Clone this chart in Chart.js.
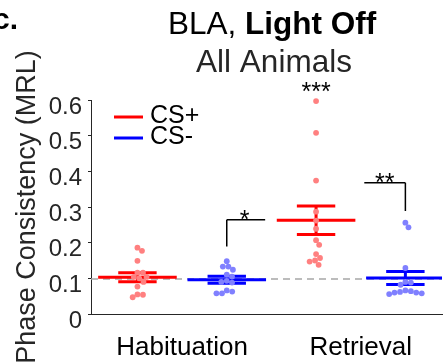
<!DOCTYPE html>
<html><head><meta charset="utf-8">
<script src="https://cdn.jsdelivr.net/npm/chart.js@4"></script>
<style>html,body{margin:0;padding:0;background:#fff}#wrap{width:446px;height:362px}</style>
</head><body><div id="wrap"><canvas id="c" width="446" height="362"></canvas></div>
<script>
// ---------------- data ----------------
const categories = ['Habituation', 'Retrieval'];
const seriesNames = ['CS+', 'CS-'];
const yTicks = [0, 0.1, 0.2, 0.3, 0.4, 0.5, 0.6];
const habituationCSplus  = [0.186,0.177,0.149,0.116,0.116,0.104,0.104,0.100,0.090,0.077,0.055,0.054,0.047];
const habituationCSminus = [0.148,0.133,0.133,0.124,0.110,0.105,0.093,0.090,0.088,0.066,0.063,0.058,0.058];
const retrievalCSplus    = [0.597,0.508,0.374,0.287,0.262,0.239,0.207,0.194,0.168,0.157,0.150,0.147,0.138];
const retrievalCSminus   = [0.256,0.243,0.129,0.090,0.088,0.082,0.066,0.062,0.060,0.058,0.056,0.060,0.064];
const meanCSplus  = [0.103, 0.263];
const semCSplus   = [0.0125, 0.040];
const meanCSminus = [0.096, 0.101];
const semCSminus  = [0.010, 0.018];
const baselineMRL = 0.098;
const sigLabels = ['*', '**', '***'];
const sigLabelX = [2.2, 3.77, 3.0];
const sigLabelY = [0.282, 0.385, 0.639];
const sigBarX1  = [2.0, 3.54, null];
const sigBarX2  = [2.43, 4.0, null];
const sigBarY   = [0.264, 0.368, null];
const sigDropX  = [2.0, 4.0, null];
const sigDropY  = [0.189, 0.289, null];

// ---------------- layout helpers ----------------
const FONT = "'Liberation Sans', Arial, Helvetica, sans-serif";
const posCSplus = [1, 3], posCSminus = [2, 4];
const X_MIN = 0.48, X_MAX = 4.41;
const RED = '#ff0000', BLUE = '#0000ff', RED_DOT = '#ff8080', BLUE_DOT = '#8080ff';

function beeswarm(values, center, ppuX, ppuY, d) {
  const idx = values.map((v, i) => i).sort((a, b) => values[b] - values[a]);
  const placed = [], out = new Array(values.length);
  for (const i of idx) {
    const py = values[i] * ppuY;
    const cands = [0];
    for (const p of placed) {
      const dy = Math.abs(p.y - py);
      if (dy < d) { const dx = Math.sqrt(d * d - dy * dy); cands.push(p.x + dx, p.x - dx); }
    }
    cands.sort((a, b) => Math.abs(a) - Math.abs(b));
    let chosen = 0;
    for (const c of cands) {
      if (placed.every(p => (p.x - c) ** 2 + (p.y - py) ** 2 >= d * d - 1e-6)) { chosen = c; break; }
    }
    placed.push({x: chosen, y: py});
    out[i] = {x: center + chosen / ppuX, y: values[i]};
  }
  return out;
}
const PPU_X = 90.3, PPU_Y = 357, DOT_D = 5.6;

function errorSegments(means, sems, positions) {
  const pts = [];
  means.forEach((m, i) => {
    const x = positions[i], s = sems[i];
    pts.push({x: x - 0.44, y: m}, {x: x + 0.44, y: m}, {x: x, y: null});
    pts.push({x: x - 0.215, y: m + s}, {x: x + 0.215, y: m + s}, {x: x, y: null});
    pts.push({x: x - 0.215, y: m - s}, {x: x + 0.215, y: m - s}, {x: x, y: null});
    pts.push({x: x, y: m - s}, {x: x, y: m + s}, {x: x, y: null});
  });
  return pts;
}

const datasets = [
  {label: 'CS+ dots', data: [...beeswarm(habituationCSplus, posCSplus[0], PPU_X, PPU_Y, DOT_D), ...beeswarm(retrievalCSplus, posCSplus[1], PPU_X, PPU_Y, DOT_D)],
   pointRadius: 2.9, pointBackgroundColor: RED_DOT, pointBorderWidth: 0, showLine: false, order: 0, clip: false},
  {label: 'CS- dots', data: [...beeswarm(habituationCSminus, posCSminus[0], PPU_X, PPU_Y, DOT_D), ...beeswarm(retrievalCSminus, posCSminus[1], PPU_X, PPU_Y, DOT_D)],
   pointRadius: 2.9, pointBackgroundColor: BLUE_DOT, pointBorderWidth: 0, showLine: false, order: 0, clip: false},
  {label: seriesNames[0], data: errorSegments(meanCSplus, semCSplus, posCSplus), showLine: true, spanGaps: false,
   borderColor: RED, borderWidth: 3, pointRadius: 0, order: 1},
  {label: seriesNames[1], data: errorSegments(meanCSminus, semCSminus, posCSminus), showLine: true, spanGaps: false,
   borderColor: BLUE, borderWidth: 3, pointRadius: 0, order: 1},
  {label: 'baseline', data: [{x: X_MIN, y: baselineMRL}, {x: X_MAX, y: baselineMRL}], showLine: true,
   borderColor: '#a6a6a6', borderWidth: 1.5, borderDash: [7, 5], pointRadius: 0, order: 2}
];

const annotate = {
  id: 'annotate',
  afterDraw(chart) {
    const ctx = chart.ctx, xs = chart.scales.x, ys = chart.scales.y;
    ctx.save();
    // panel letter
    ctx.fillStyle = '#000';
    ctx.font = `bold 30px ${FONT}`;
    ctx.textBaseline = 'alphabetic';
    ctx.textAlign = 'left';
    ctx.fillText('c.', -7, 29);
    // title (mixed weight)
    const t1 = 'BLA, ', t2 = 'Light Off';
    ctx.font = `31.5px ${FONT}`; const w1 = ctx.measureText(t1).width;
    ctx.font = `bold 31.5px ${FONT}`; const w2 = ctx.measureText(t2).width;
    let tx = 272 - (w1 + w2) / 2;
    ctx.font = `31.5px ${FONT}`; ctx.fillText(t1, tx, 34);
    ctx.font = `bold 31.5px ${FONT}`; ctx.fillText(t2, tx + w1, 34);
    ctx.fillStyle = '#262626';
    ctx.font = `31.5px ${FONT}`; ctx.textAlign = 'center';
    ctx.fillText('All Animals', 274, 72);
    // legend
    const legColors = [RED, BLUE], legY = [117, 138];
    seriesNames.forEach((n, i) => {
      ctx.strokeStyle = legColors[i]; ctx.lineWidth = 3;
      ctx.beginPath(); ctx.moveTo(114, legY[i]); ctx.lineTo(143, legY[i]); ctx.stroke();
      ctx.fillStyle = '#000'; ctx.font = `25px ${FONT}`; ctx.textAlign = 'left'; ctx.textBaseline = 'middle';
      ctx.fillText(n, 150, legY[i] - 1);
    });
    // significance
    ctx.strokeStyle = '#000'; ctx.lineWidth = 1.5;
    sigLabels.forEach((lab, i) => {
      if (sigBarY[i] !== null) {
        ctx.beginPath();
        ctx.moveTo(xs.getPixelForValue(sigBarX1[i]), ys.getPixelForValue(sigBarY[i]));
        ctx.lineTo(xs.getPixelForValue(sigBarX2[i]), ys.getPixelForValue(sigBarY[i]));
        ctx.moveTo(xs.getPixelForValue(sigDropX[i]), ys.getPixelForValue(sigBarY[i]));
        ctx.lineTo(xs.getPixelForValue(sigDropX[i]), ys.getPixelForValue(sigDropY[i]));
        ctx.stroke();
      }
      ctx.fillStyle = '#000'; ctx.font = `25px ${FONT}`; ctx.textAlign = 'center'; ctx.textBaseline = 'alphabetic';
      ctx.fillText(lab, xs.getPixelForValue(sigLabelX[i]), ys.getPixelForValue(sigLabelY[i]) + 0.57 * 25);
    });
    ctx.restore();
  }
};

new Chart(document.getElementById('c'), {
  type: 'scatter',
  data: {datasets},
  options: {
    responsive: false, animation: false, devicePixelRatio: 1,
    layout: {padding: {top: 100, left: 0, right: 0, bottom: 0}},
    plugins: {legend: {display: false}, tooltip: {enabled: false}, title: {display: false}},
    scales: {
      x: {
        type: 'linear', min: X_MIN, max: X_MAX,
        afterBuildTicks: s => { s.ticks = [{value: 1.5}, {value: 3.5}]; },
        afterFit: s => { s.height = 48; },
        ticks: {callback: (v, i) => categories[i], font: {family: FONT, size: 26}, color: '#000', padding: 18, maxRotation: 0, autoSkip: false},
        grid: {display: false, drawTicks: false},
        border: {display: true, color: '#262626', width: 1}
      },
      y: {
        min: 0, max: 0.6,
        afterBuildTicks: s => { s.ticks = yTicks.map(v => ({value: v})); },
        afterFit: s => { s.width = 91; },
        ticks: {callback: v => (v === 0 ? '0' : v.toFixed(1)), font: {family: FONT, size: 24}, color: '#262626', padding: 6, labelOffset: 7},
        grid: {display: true, drawOnChartArea: false, drawTicks: true, tickLength: 3, color: '#262626'},
        border: {display: true, color: '#262626', width: 1},
        title: {display: true, text: 'Phase Consistency (MRL)', font: {family: FONT, size: 27}, color: '#262626', padding: {top: 11, bottom: 0}}
      }
    }
  },
  plugins: [annotate]
});
</script></body></html>
